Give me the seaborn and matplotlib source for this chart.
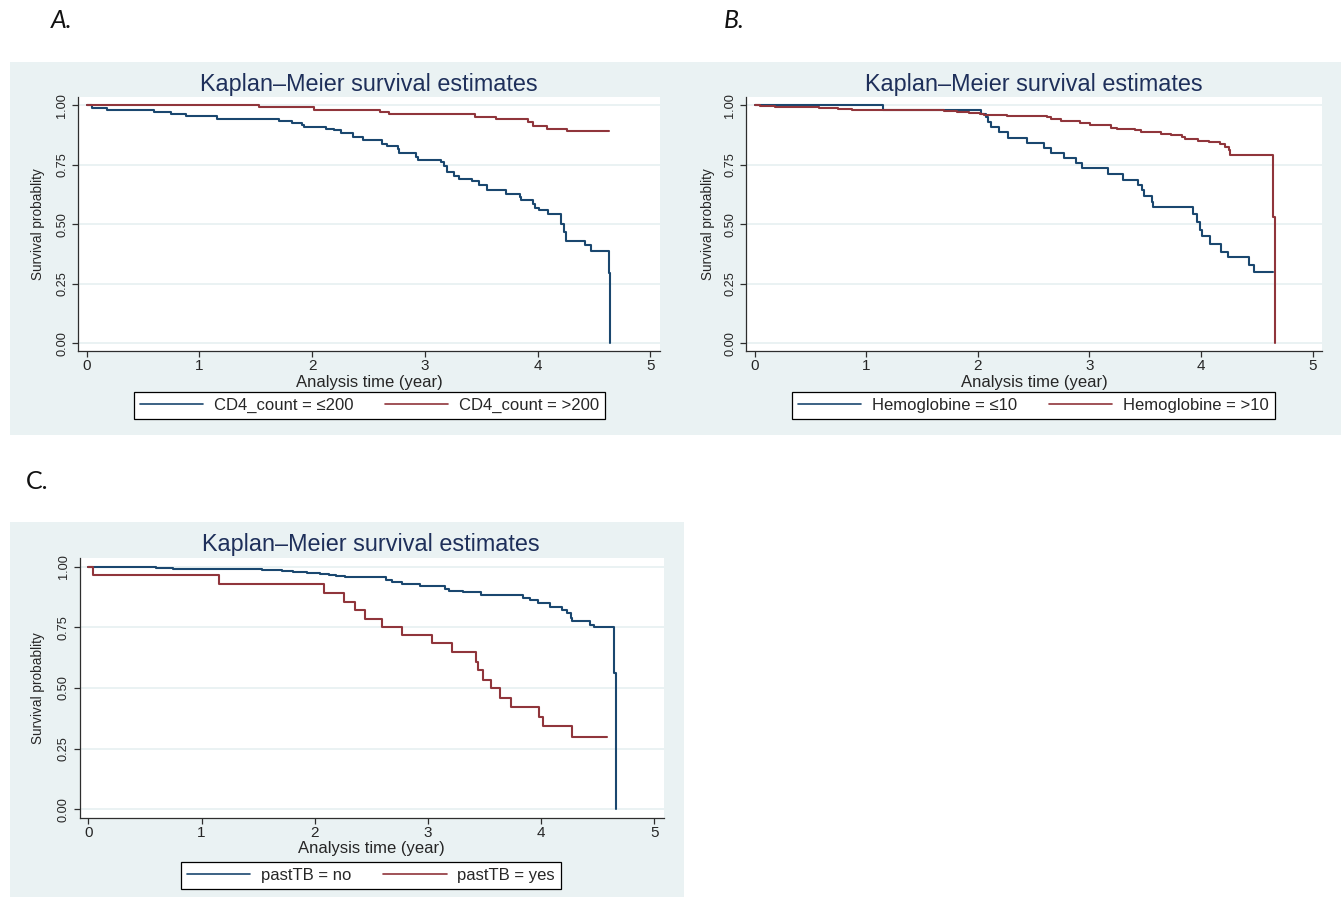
import numpy as np
import pandas as pd
import matplotlib
matplotlib.use("Agg")
import matplotlib.pyplot as plt
import seaborn as sns
from matplotlib.lines import Line2D
from matplotlib.patches import Rectangle

# ---------------- data ----------------
title_text = "Kaplan\u2013Meier survival estimates"
xlabel_text = "Analysis time (year)"
ylabel_text = "Survival probablity"
x_ticks = [0, 1, 2, 3, 4, 5]
y_ticks = [0.0, 0.25, 0.5, 0.75, 1.0]
y_ticklabels = ["0.00", "0.25", "0.50", "0.75", "1.00"]

# Panel A: CD4 count
A_labels = ["CD4_count = \u2264200", "CD4_count = >200"]
A_blue_t = [0, 0.044, 0.18, 0.60, 0.75, 0.88, 1.16, 1.71, 1.82, 1.91, 1.93, 2.12, 2.19, 2.26,
            2.36, 2.45, 2.62, 2.66, 2.76, 2.77, 2.92, 2.94, 3.14, 3.17, 3.20, 3.26, 3.30, 3.42,
            3.48, 3.55, 3.72, 3.84, 3.85, 3.96, 3.98, 4.01, 4.09, 4.21, 4.23, 4.25, 4.42, 4.47,
            4.63, 4.645]
A_blue_s = [1.0, 0.990, 0.979, 0.971, 0.962, 0.954, 0.944, 0.934, 0.926, 0.917, 0.909, 0.901,
            0.895, 0.884, 0.867, 0.856, 0.836, 0.827, 0.818, 0.801, 0.783, 0.772, 0.762, 0.744,
            0.720, 0.702, 0.692, 0.683, 0.664, 0.644, 0.627, 0.613, 0.601, 0.587, 0.570, 0.559,
            0.542, 0.503, 0.468, 0.431, 0.413, 0.389, 0.294, 0.0]
A_red_t = [0, 1.53, 2.02, 2.60, 2.68, 3.44, 3.63, 3.91, 3.96, 4.08, 4.26, 4.63]
A_red_s = [1.0, 0.994, 0.979, 0.971, 0.962, 0.951, 0.941, 0.928, 0.913, 0.902, 0.890, 0.890]

# Panel B: Hemoglobine
B_labels = ["Hemoglobine = \u226410", "Hemoglobine = >10"]
B_blue_t = [0, 1.15, 2.03, 2.07, 2.09, 2.12, 2.19, 2.27, 2.44, 2.59, 2.66, 2.77, 2.88, 2.93,
            3.17, 3.30, 3.44, 3.47, 3.49, 3.56, 3.57, 3.93, 3.965, 3.99, 4.01, 4.08, 4.18, 4.24,
            4.43, 4.48, 4.65]
B_blue_s = [1.0, 0.979, 0.965, 0.951, 0.930, 0.909, 0.888, 0.864, 0.843, 0.822, 0.801, 0.779,
            0.758, 0.736, 0.713, 0.688, 0.664, 0.643, 0.618, 0.594, 0.571, 0.543, 0.511, 0.476,
            0.452, 0.417, 0.385, 0.361, 0.329, 0.298, 0.298]
B_red_t = [0, 0.045, 0.18, 0.58, 0.75, 0.87, 1.51, 1.70, 1.81, 1.92, 2.02, 2.06, 2.26, 2.35,
           2.62, 2.66, 2.75, 2.92, 3.01, 3.14, 3.19, 3.25, 3.41, 3.46, 3.64, 3.73, 3.83, 3.86,
           3.97, 4.07, 4.17, 4.22, 4.25, 4.26, 4.647, 4.66]
B_red_s = [1.0, 0.996, 0.993, 0.989, 0.986, 0.982, 0.979, 0.975, 0.972, 0.968, 0.964, 0.960,
           0.957, 0.954, 0.949, 0.941, 0.932, 0.926, 0.919, 0.916, 0.905, 0.899, 0.895, 0.888,
           0.881, 0.877, 0.867, 0.860, 0.849, 0.844, 0.837, 0.825, 0.814, 0.790, 0.531, 0.0]

# Panel C: past TB
C_labels = ["pastTB = no", "pastTB = yes"]
C_blue_t = [0, 0.18, 0.60, 0.75, 0.87, 1.53, 1.71, 1.81, 1.93, 2.05, 2.13, 2.19, 2.27, 2.63,
            2.68, 2.77, 2.93, 3.15, 3.19, 3.31, 3.47, 3.84, 3.90, 3.97, 4.08, 4.18, 4.23, 4.26,
            4.27, 4.43, 4.47, 4.64, 4.66]
C_blue_s = [1.0, 0.997, 0.993, 0.991, 0.988, 0.985, 0.982, 0.979, 0.975, 0.970, 0.966, 0.962,
            0.955, 0.945, 0.936, 0.927, 0.918, 0.907, 0.900, 0.894, 0.884, 0.872, 0.862, 0.849,
            0.835, 0.821, 0.808, 0.787, 0.774, 0.760, 0.749, 0.560, 0.0]
C_red_t = [0, 0.04, 1.15, 2.08, 2.26, 2.36, 2.44, 2.59, 2.77, 3.04, 3.21, 3.42, 3.44, 3.49,
           3.56, 3.64, 3.73, 3.98, 4.02, 4.27, 4.58]
C_red_s = [1.0, 0.963, 0.926, 0.889, 0.854, 0.820, 0.786, 0.753, 0.718, 0.684, 0.647, 0.609,
           0.574, 0.533, 0.499, 0.460, 0.420, 0.382, 0.345, 0.299, 0.299]

# ---------------- style ----------------
sns.set_style("white")
plt.rcParams["font.family"] = ["Liberation Sans", "DejaVu Sans"]

W, H = 1341, 898
BG = "#EAF2F3"
BLUE = "#1a476f"
RED = "#90353b"
TITLE_C = "#1e2f5a"
AXC = "#2e2e2e"

fig = plt.figure(figsize=(W / 100, H / 100), dpi=100)
fig.patch.set_facecolor("white")


def fx(x):
    return x / W


def fy(y):
    return 1 - y / H


def panel(bg, axr, title_xy, xlabel_xy, ylabel_xy, leg_xy, t1, s1, t2, s2, labels):
    l, t, r, b = bg
    fig.patches.append(Rectangle((fx(l), fy(b)), (r - l) / W, (b - t) / H,
                                 transform=fig.transFigure, facecolor=BG,
                                 edgecolor="none", zorder=-5))
    al, at, ar, ab = axr
    aw, ah = ar - al, ab - at
    ax = fig.add_axes([fx(al), fy(ab), aw / W, ah / H])
    ax.set_zorder(2)
    ax.set_facecolor("white")

    df = pd.DataFrame({
        "t": list(t1) + list(t2),
        "s": list(s1) + list(s2),
        "g": [labels[0]] * len(t1) + [labels[1]] * len(t2),
    })
    sns.lineplot(data=df, x="t", y="s", hue="g", hue_order=labels,
                 palette=[BLUE, RED], drawstyle="steps-post", estimator=None,
                 sort=False, legend=False, linewidth=1.5, ax=ax)

    ax.set_xlim(-0.077, 5.085)
    ax.set_ylim(-0.035, 1.035)
    ax.set_xticks(x_ticks)
    ax.set_xticklabels([str(v) for v in x_ticks], fontsize=11)
    ax.set_yticks(y_ticks)
    ax.set_yticklabels(y_ticklabels, rotation=90, va="center", fontsize=9.2)
    ax.yaxis.grid(True, color=BG, linewidth=1.4)
    ax.xaxis.grid(False)
    ax.set_axisbelow(True)
    for side in ["top", "right"]:
        ax.spines[side].set_visible(False)
    for side in ["left", "bottom"]:
        ax.spines[side].set_color(AXC)
        ax.spines[side].set_linewidth(0.9)
    ax.tick_params(axis="both", direction="out", length=4, width=0.9, color=AXC,
                   bottom=True, left=True)
    ax.tick_params(axis="x", pad=1.5)
    ax.tick_params(axis="y", pad=3)

    # title
    ax.set_title(title_text, fontsize=16.8, color=TITLE_C,
                 x=(title_xy[0] - al) / aw, y=1 + (at - title_xy[1]) / ah,
                 va="center", pad=0)
    # axis labels
    ax.set_xlabel(xlabel_text, fontsize=12)
    ax.xaxis.label.set_va("center")
    ax.xaxis.set_label_coords((xlabel_xy[0] - al) / aw, (ab - xlabel_xy[1]) / ah)
    ax.set_ylabel(ylabel_text, fontsize=9.8)
    ax.yaxis.label.set_va("center")
    ax.yaxis.set_label_coords((ylabel_xy[0] - al) / aw, (ab - ylabel_xy[1]) / ah)

    handles = [Line2D([], [], color=BLUE, lw=1.2), Line2D([], [], color=RED, lw=1.2)]
    leg = ax.legend(handles, labels, ncol=2, loc="center",
                    bbox_to_anchor=(fx(leg_xy[0]), fy(leg_xy[1])),
                    bbox_transform=fig.transFigure, frameon=True, fancybox=False,
                    edgecolor="black", facecolor="white", framealpha=1, fontsize=12,
                    handlelength=3.8, handletextpad=0.65, columnspacing=1.9,
                    borderpad=0.35, borderaxespad=0)
    leg.get_frame().set_linewidth(0.9)
    return ax


panel((10, 62, 677, 435), (78, 97, 660, 351.5), (369, 85), (369, 382.5), (38, 224),
      (369.5, 405.5), A_blue_t, A_blue_s, A_red_t, A_red_s, A_labels)
panel((677, 62, 1341, 435), (746, 97, 1322, 351.5), (1034, 85), (1034, 382.5), (708, 224),
      (1033.5, 405.5), B_blue_t, B_blue_s, B_red_t, B_red_s, B_labels)
panel((10, 522, 684, 897), (79.6, 558, 664, 818), (371, 545), (371, 849), (38, 688),
      (371, 875.5), C_blue_t, C_blue_s, C_red_t, C_red_s, C_labels)

lab_font = ["Lato", "DejaVu Sans"]
fig.text(fx(62), fy(20), "A.", fontsize=18, style="italic", family=lab_font,
         ha="center", va="center", color="#111111")
fig.text(fx(734), fy(20), "B.", fontsize=18, style="italic", family=lab_font,
         ha="center", va="center", color="#111111")
fig.text(fx(37), fy(481), "C.", fontsize=18, family=lab_font,
         ha="center", va="center", color="#111111")

fig.savefig("out.png", dpi=100, facecolor="white")
